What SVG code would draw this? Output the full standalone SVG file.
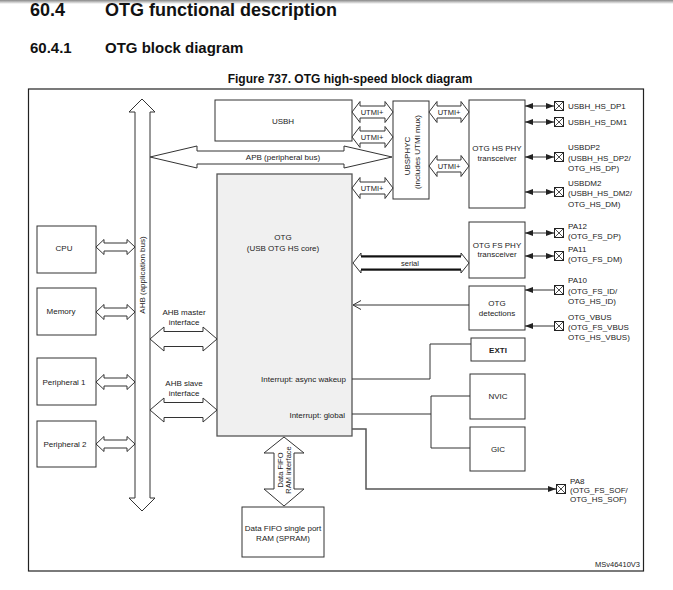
<svg xmlns="http://www.w3.org/2000/svg" width="673" height="590" viewBox="0 0 673 590">
<style>
.t{font-family:"Liberation Sans",Arial,sans-serif;font-size:8px;fill:#222}
.s{font-size:7.5px}
.m{text-anchor:middle}
.e{text-anchor:end}
.b{font-weight:bold}
.h{font-family:"Liberation Sans",Arial,sans-serif;font-weight:bold;fill:#111}
.box{fill:#fff;stroke:#333;stroke-width:1}
.ar{fill:#fff;stroke:#333;stroke-width:1;stroke-linejoin:miter}
.ln{fill:none;stroke:#333;stroke-width:1}
.pin rect{fill:#fff;stroke:#222;stroke-width:1}
.pin path{stroke:#222;stroke-width:0.8;fill:none}
</style>
<defs>
<linearGradient id="shadow" x1="0" y1="0" x2="0" y2="1"><stop offset="0" stop-color="#888"/><stop offset="1" stop-color="#fff"/></linearGradient>
<marker id="fa" viewBox="0 0 8 8" refX="8" refY="4" markerWidth="8" markerHeight="8" markerUnits="userSpaceOnUse" orient="auto-start-reverse"><path d="M0,1 L8,4 L0,7 z" fill="#222"/></marker>
<marker id="oa" viewBox="0 0 10 10" refX="9" refY="5" markerWidth="10" markerHeight="10" markerUnits="userSpaceOnUse" orient="auto"><path d="M1,0.5 L9,5 L1,9.5" fill="none" stroke="#333" stroke-width="1"/></marker>
<g id="pinbox" class="pin"><rect x="0" y="0" width="9" height="9"/><path d="M0,0 L9,9 M9,0 L0,9"/></g>
</defs>
<rect width="673" height="590" fill="#fff"/>
<rect x="0" y="0" width="673" height="4" fill="url(#shadow)"/>

<g id="headings">
<text class="h" x="30" y="16" font-size="18">60.4</text>
<text class="h" x="105" y="16" font-size="18">OTG functional description</text>
<text class="h" x="30" y="53" font-size="15">60.4.1</text>
<text class="h" x="105" y="53" font-size="15">OTG block diagram</text>
<text class="h" x="350" y="83" font-size="12" text-anchor="middle">Figure 737. OTG high-speed block diagram</text>
</g>

<rect id="frame" x="28.5" y="89" width="615" height="482" fill="none" stroke="#222" stroke-width="1.2"/>

<g id="ahb-bus">
<polygon class="ar" points="142,99 155,112 150,112 150,498 155,498 142,511 129,498 135,498 135,112 129,112"/>
<text class="t" transform="translate(145,275) rotate(-90)" text-anchor="middle">AHB (application bus)</text>
</g>

<g id="apb-bus">
<polygon class="ar" points="150,157 197,146 197,151 344,151 344,146 392,157 344,168 344,164 197,164 197,168"/>
<text class="t m" x="283" y="160">APB (peripheral bus)</text>
</g>

<g id="cpu"><rect class="box" x="37" y="226" width="59" height="47"/><text class="t m" x="64" y="251">CPU</text></g>
<g id="memory"><rect class="box" x="37" y="288" width="59" height="47"/><text class="t m" x="61" y="314">Memory</text></g>
<g id="peripheral1"><rect class="box" x="37" y="358" width="59" height="47"/><text class="t m" x="64" y="385">Peripheral 1</text></g>
<g id="peripheral2"><rect class="box" x="37" y="421" width="59" height="46"/><text class="t m" x="65" y="447">Peripheral 2</text></g>

<g id="usbh"><rect class="box" x="215" y="100" width="137" height="41"/><text class="t m" x="283" y="124">USBH</text></g>

<g id="usbphyc"><rect class="box" x="393" y="101" width="36" height="98"/>
<text class="t" transform="translate(410,156) rotate(-90)" text-anchor="middle">UBSPHYC</text>
<text class="t" transform="translate(420,152) rotate(-90)" text-anchor="middle">(includes UTMI mux)</text></g>

<g id="otg-hs-phy"><rect class="box" x="469" y="100" width="56" height="108"/>
<text class="t m" x="497" y="151">OTG HS PHY</text><text class="t m" x="497" y="161">transceiver</text></g>

<g id="otg-core"><rect x="217" y="174" width="135" height="262" fill="#f0f0f0" stroke="#555" stroke-width="1.3"/>
<text class="t m" x="283" y="240">OTG</text><text class="t m" x="283" y="251">(USB OTG HS core)</text>
<text class="t e" x="346" y="382">Interrupt: async wakeup</text>
<text class="t e" x="345" y="418">Interrupt: global</text></g>

<g id="otg-fs-phy"><rect class="box" x="469" y="222" width="56" height="56"/>
<text class="t m" x="497" y="248">OTG FS PHY</text><text class="t m" x="497" y="257">transceiver</text></g>

<g id="otg-detections"><rect class="box" x="469" y="286" width="56" height="44"/>
<text class="t m" x="497" y="306">OTG</text><text class="t m" x="497" y="316">detections</text></g>

<g id="exti"><rect class="box" x="471" y="338" width="54" height="23" stroke-width="1.4"/><text class="t m b" x="498" y="353">EXTI</text></g>
<g id="nvic"><rect class="box" x="470" y="374" width="55" height="45"/><text class="t m" x="498" y="399">NVIC</text></g>
<g id="gic"><rect class="box" x="470" y="427" width="55" height="44"/><text class="t m" x="498" y="452">GIC</text></g>

<g id="spram"><rect class="box" x="242" y="507" width="82" height="50"/>
<text class="t m" x="283" y="531">Data FIFO single port</text><text class="t m" x="283" y="541">RAM (SPRAM)</text></g>

<g id="pins">
<use href="#pinbox" x="554.5" y="101.5"/><text class="t" x="568" y="109">USBH_HS_DP1</text>
<use href="#pinbox" x="554.5" y="117.5"/><text class="t" x="568" y="125">USBH_HS_DM1</text>
<use href="#pinbox" x="554.5" y="152.5"/><text class="t" x="568" y="150">USBDP2</text><text class="t" x="568" y="160.5">(USBH_HS_DP2/</text><text class="t" x="568" y="171">OTG_HS_DP)</text>
<use href="#pinbox" x="554.5" y="187.5"/><text class="t" x="568" y="185.5">USBDM2</text><text class="t" x="568" y="196">(USBH_HS_DM2/</text><text class="t" x="568" y="206.5">OTG_HS_DM)</text>
<use href="#pinbox" x="554.5" y="228.5"/><text class="t" x="568" y="229">PA12</text><text class="t" x="568" y="239">(OTG_FS_DP)</text>
<use href="#pinbox" x="554.5" y="251.5"/><text class="t" x="568" y="252">PA11</text><text class="t" x="568" y="262">(OTG_FS_DM)</text>
<use href="#pinbox" x="554.5" y="285.5"/><text class="t" x="568" y="283">PA10</text><text class="t" x="568" y="294">(OTG_FS_ID/</text><text class="t" x="568" y="304">OTG_HS_ID)</text>
<use href="#pinbox" x="554.5" y="321.5"/><text class="t" x="568" y="320">OTG_VBUS</text><text class="t" x="568" y="330">(OTG_FS_VBUS</text><text class="t" x="568" y="340">OTG_HS_VBUS)</text>
<use href="#pinbox" x="556.5" y="484.5"/><text class="t" x="570" y="484">PA8</text><text class="t" x="570" y="493">(OTG_FS_SOF/</text><text class="t" x="570" y="502">OTG_HS_SOF)</text>
</g>

<g id="connectors">
<polygon class="ar" points="96,247 104,239.5 104,243 127,243 127,239.5 135,247 127,254.5 127,251 104,251 104,254.5"/>
<polygon class="ar" points="96,312 104,304.5 104,308 127,308 127,304.5 135,312 127,319.5 127,316 104,316 104,319.5"/>
<polygon class="ar" points="96,382 104,374.5 104,378 127,378 127,374.5 135,382 127,389.5 127,386 104,386 104,389.5"/>
<polygon class="ar" points="96,444 104,436.5 104,440 127,440 127,436.5 135,444 127,451.5 127,448 104,448 104,451.5"/>
<polygon class="ar" points="150,339 164,327 164,331.5 203,331.5 203,327 217,339 203,351 203,346.5 164,346.5 164,351"/>
<text class="t m" x="184" y="315">AHB master</text><text class="t m" x="184" y="325">interface</text>
<polygon class="ar" points="150,410 164,398 164,402.5 203,402.5 203,398 217,410 203,422 203,417.5 164,417.5 164,422"/>
<text class="t m" x="184" y="386">AHB slave</text><text class="t m" x="184" y="396">interface</text>

<polygon class="ar" points="352,112 360,101.5 360,106 385,106 385,101.5 393,112 385,122.5 385,118 360,118 360,122.5"/>
<text class="t s m" x="372" y="114.7">UTMI+</text>
<polygon class="ar" points="352,137 360,126.5 360,131 385,131 385,126.5 393,137 385,147.5 385,143 360,143 360,147.5"/>
<text class="t s m" x="372" y="139.7">UTMI+</text>
<polygon class="ar" points="352,188 360,177.5 360,182 385,182 385,177.5 393,188 385,198.5 385,194 360,194 360,198.5"/>
<text class="t s m" x="372" y="190.7">UTMI+</text>
<polygon class="ar" points="429,112 437,101.5 437,106 461,106 461,101.5 469,112 461,122.5 461,118 437,118 437,122.5"/>
<text class="t s m" x="449" y="114.7">UTMI+</text>
<polygon class="ar" points="429,166 437,155.5 437,160 461,160 461,155.5 469,166 461,176.5 461,172 437,172 437,176.5"/>
<text class="t s m" x="449" y="168.7">UTMI+</text>

<polygon class="ar" points="353,263 361,253 361,256 461,256 461,253 469,263 461,273 461,270 361,270 361,273"/>
<path d="M361,256.5 H461 M361,269.5 H461" stroke="#111" stroke-width="2.2" fill="none"/>
<text class="t s m" x="410" y="265.5">serial</text>

<polygon class="ar" points="284,437 304,453 294,453 294,489 304,489 284,506 264,489 274,489 274,453 264,453"/>
<text class="t s" transform="translate(283,470) rotate(-90)" text-anchor="middle">Data FIFO</text>
<text class="t s" transform="translate(291,470) rotate(-90)" text-anchor="middle">RAM interface</text>

<path class="ln" d="M469,305 H353" marker-end="url(#oa)"/>
<path class="ln" d="M352,379 H430 V344 H471"/>
<path class="ln" d="M352,414 H431 M470,396 H431 V448 H470"/>
<path d="M352,429 H366 V489 H556" fill="none" stroke="#555" stroke-width="1.5" marker-end="url(#fa)"/>

<path class="ln" d="M525,106 H554" marker-start="url(#fa)" marker-end="url(#fa)"/>
<path class="ln" d="M525,122 H554" marker-start="url(#fa)" marker-end="url(#fa)"/>
<path class="ln" d="M525,157 H554" marker-start="url(#fa)" marker-end="url(#fa)"/>
<path class="ln" d="M525,192 H554" marker-start="url(#fa)" marker-end="url(#fa)"/>
<path class="ln" d="M525,233 H554" marker-start="url(#fa)" marker-end="url(#fa)"/>
<path class="ln" d="M525,256 H554" marker-start="url(#fa)" marker-end="url(#fa)"/>
<path class="ln" d="M554,290 H525" marker-end="url(#fa)"/>
<path class="ln" d="M554,326 H525" marker-end="url(#fa)"/>
</g>

<text class="t s e" x="640" y="567">MSv46410V3</text>
</svg>
